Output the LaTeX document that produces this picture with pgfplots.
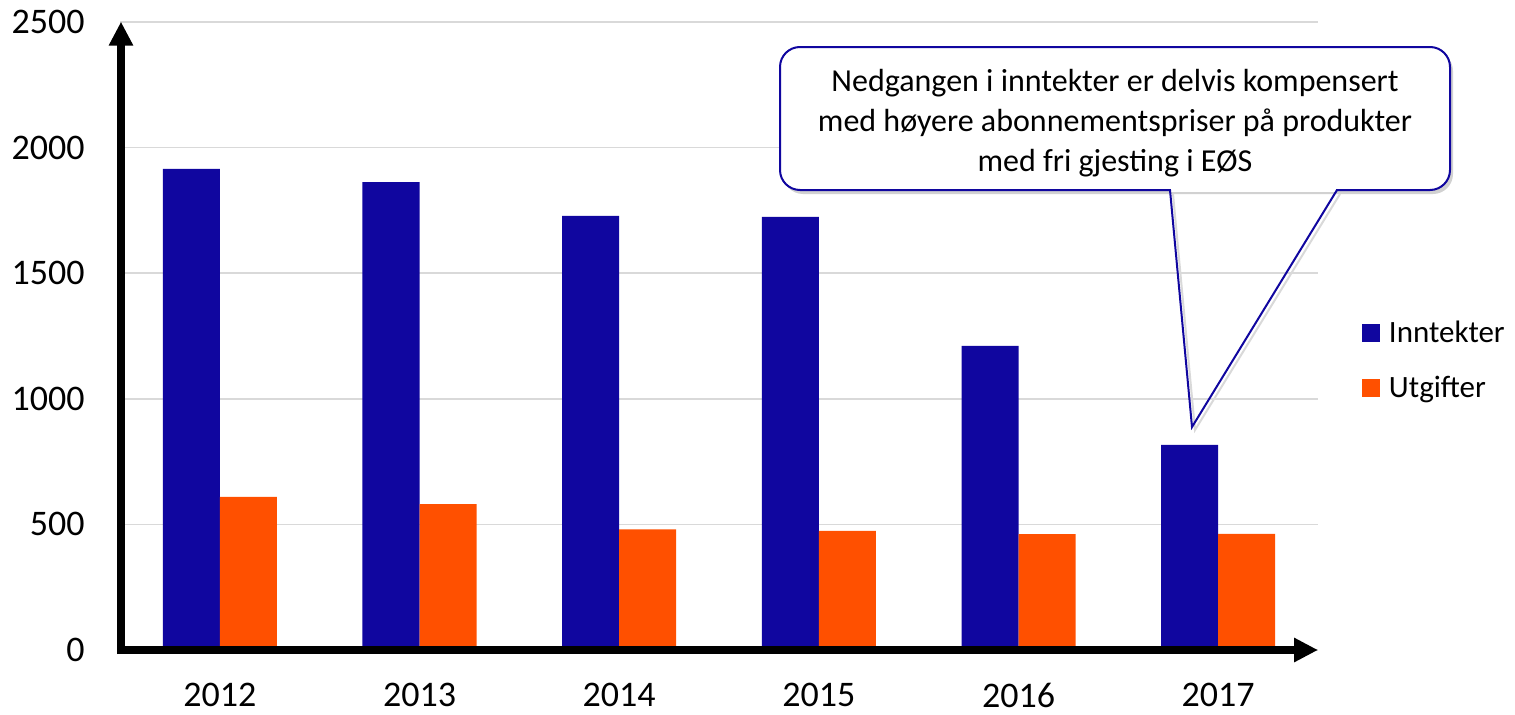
\documentclass[border=0pt]{standalone}
\usepackage{pgfplots}
\pgfplotsset{compat=1.18}
\usepackage{fontspec}
\setmainfont{Carlito}
\usetikzlibrary{arrows.meta}
\definecolor{cblue}{HTML}{10069F}
\definecolor{corange}{HTML}{FF5000}
\definecolor{gridgray}{HTML}{D9D9D9}
\begin{document}
\begin{tikzpicture}
\path[use as bounding box] (-60pt,-32pt) rectangle (697.5pt,325pt);
\begin{axis}[
  at={(0,0)}, anchor=south west,
  scale only axis, width=599pt, height=314pt,
  xmin=-0.5, xmax=5.5, ymin=0, ymax=2500,
  ybar=0pt, bar width=28.5pt,
  xtick={0,1,2,3,4,5},
  xticklabels={2012,2013,2014,2015,2016,2017},
  ytick={0,500,1000,1500,2000,2500},
  ymajorgrids, grid style={gridgray, line width=0.75pt},
  axis line style={draw=none}, major tick length=0pt,
  /pgf/number format/assume math mode=true,
  /pgf/number format/1000 sep={},
  tick label style={font=\fontsize{18}{20}\selectfont},
  yticklabel style={anchor=east, inner sep=0pt, xshift=-17.5pt},
  xticklabel style={anchor=north, inner sep=0pt, yshift=-16.5pt},
  legend style={at={(1.0367,0.5239)}, anchor=north west, draw=none, fill=none,
    inner sep=0pt, outer sep=0pt, font=\fontsize{15.5}{18}\selectfont,
    row sep=13.5pt,
    nodes={inner sep=0pt, text height=11pt, text depth=3pt, anchor=base west},
    /tikz/every odd column/.append style={column sep=4.5pt}},
  legend cell align=left,
]
\addplot[fill=cblue, draw=none,
  legend image code/.code={\fill[cblue] (0pt,0.5pt) rectangle (9pt,9.5pt);}]
  coordinates {(0,1915) (1,1863) (2,1728) (3,1724) (4,1211) (5,817)};
\addlegendentry{Inntekter}
\addplot[fill=corange, draw=none,
  legend image code/.code={\fill[corange] (0pt,0.5pt) rectangle (9pt,9.5pt);}]
  coordinates {(0,610) (1,581) (2,480) (3,474) (4,461) (5,462)};
\addlegendentry{Utgifter}
\end{axis}
\begin{scope}[shift={(-60pt,325pt)}, x=0.5pt, y=-0.5pt]
  % axes with arrows
  \draw[line width=3.8pt, -{Triangle[width=11.5pt,length=12pt]}] (121,654) -- (121,21.7);
  \draw[line width=3.8pt, -{Triangle[width=11.5pt,length=12pt]}] (117,650) -- (1318,650);
  % callout
  \fill[black!18, rounded corners=10pt] (783,51) rectangle (1453,194);
  \filldraw[fill=white, draw=cblue, line width=1pt, rounded corners=10pt] (780,47) rectangle (1450,190);
  \fill[white] (1171,188) rectangle (1336,191.5);
  \draw[black!15, line width=1pt] (1173,194) -- (1195,430) -- (1340,194);
  \draw[cblue, line width=1pt, line join=miter] (1170,190) -- (1192,427) -- (1337,190);
  \node[align=center, font=\fontsize{16}{20}\selectfont, inner sep=0pt] at (1115,123)
    {Nedgangen i inntekter er delvis kompensert\\med høyere abonnementspriser på produkter\\med fri gjesting i EØS};
\end{scope}
\end{tikzpicture}
\end{document}
